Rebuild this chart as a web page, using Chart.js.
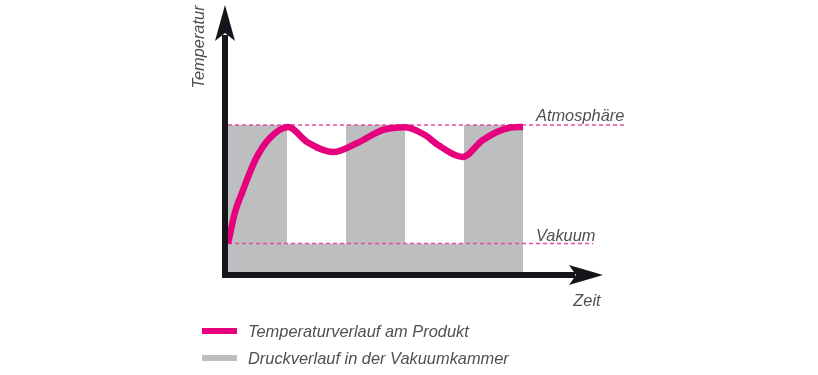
<!DOCTYPE html>
<html>
<head>
<meta charset="utf-8">
<script src="https://cdn.jsdelivr.net/npm/chart.js@4"></script>
<style>
html,body{margin:0;padding:0;background:#fff;}
canvas{display:block;}
</style>
</head>
<body>
<canvas id="c" width="818" height="375"></canvas>
<script>
// ---- data ----
const ATM = 100;          // Atmosphäre level
const VAC = 21;           // Vakuum level
const pressureX = [0, 1, 2, 3, 4, 5];
const pressureY = [ATM, VAC, ATM, VAC, ATM, ATM];
const tempX = [0, 0.12, 0.24, 0.46, 0.69, 1.02, 1.34, 1.78, 2.19, 2.63, 3.0, 3.34, 3.56, 3.98, 4.32, 4.75, 5.0];
const tempY = [21, 42, 55, 76.5, 90.5, 98.7, 88.7, 82, 88, 96.7, 98.5, 93.3, 86.7, 78.7, 90, 98, 98.7];
const atmLineX = [0, 6.76];
const vacLineX = [0, 6.19];
const labels = {
  yTitle: 'Temperatur',
  xTitle: 'Zeit',
  atm: 'Atmosphäre',
  vac: 'Vakuum',
  temp: 'Temperaturverlauf am Produkt',
  press: 'Druckverlauf in der Vakuumkammer'
};
const X_MAX = 6.356;
const Y_MAX = 180;

const PINK = '#e6007e';
const DASH = '#ea4aa0';
const GRAY = '#bcbec0';
const AXIS = '#15151c';
const TEXT = '#505050';
const FONT = 'italic 16.4px "Liberation Sans", Arial, sans-serif';

const decor = {
  id: 'decor',
  afterDatasetsDraw(chart) {
    const {ctx, scales: {x, y}} = chart;
    const ax = x.getPixelForValue(0) - 3;
    const ay = y.getPixelForValue(0);
    const yTip = y.getPixelForValue(Y_MAX);
    const xTip = x.getPixelForValue(X_MAX);
    ctx.save();
    ctx.fillStyle = AXIS;
    ctx.strokeStyle = AXIS;
    ctx.lineWidth = 6;
    ctx.lineCap = 'butt';
    // y axis
    ctx.beginPath();
    ctx.moveTo(ax, ay + 3);
    ctx.lineTo(ax, yTip + 30);
    ctx.stroke();
    ctx.beginPath();
    ctx.moveTo(ax, yTip);
    ctx.lineTo(ax + 10, yTip + 36);
    ctx.lineTo(ax, yTip + 28);
    ctx.lineTo(ax - 10, yTip + 36);
    ctx.closePath();
    ctx.fill();
    // x axis
    ctx.beginPath();
    ctx.moveTo(ax - 3, ay);
    ctx.lineTo(xTip - 28, ay);
    ctx.stroke();
    ctx.beginPath();
    ctx.moveTo(xTip, ay);
    ctx.lineTo(xTip - 34, ay - 10);
    ctx.lineTo(xTip - 27, ay);
    ctx.lineTo(xTip - 34, ay + 10);
    ctx.closePath();
    ctx.fill();

    // texts
    ctx.fillStyle = TEXT;
    ctx.font = FONT;
    ctx.textAlign = 'left';
    ctx.textBaseline = 'alphabetic';
    ctx.fillText(labels.atm, x.getPixelForValue(5.22), y.getPixelForValue(ATM) - 4);
    ctx.fillText(labels.vac, x.getPixelForValue(5.22), y.getPixelForValue(VAC) - 3);
    ctx.textAlign = 'center';
    ctx.textBaseline = 'middle';
    ctx.fillText(labels.xTitle, xTip - 16, ay + 26);
    ctx.save();
    ctx.translate(ax - 26, yTip + 42);
    ctx.rotate(-Math.PI / 2);
    ctx.fillText(labels.yTitle, 0, 0);
    ctx.restore();

    // legend
    const items = [
      {text: labels.temp, color: PINK},
      {text: labels.press, color: GRAY}
    ];
    items.forEach((it, i) => {
      const ly = 331 + i * 27;
      ctx.strokeStyle = it.color;
      ctx.lineWidth = 6;
      ctx.beginPath();
      ctx.moveTo(202, ly);
      ctx.lineTo(237, ly);
      ctx.stroke();
      ctx.fillStyle = TEXT;
      ctx.textAlign = 'left';
      ctx.textBaseline = 'middle';
      ctx.fillText(it.text, 248, ly + 1);
    });
    ctx.restore();
  }
};

new Chart(document.getElementById('c'), {
  type: 'line',
  data: {
    datasets: [
      {
        label: labels.press,
        data: pressureX.map((v, i) => ({x: v, y: pressureY[i]})),
        stepped: true,
        fill: 'origin',
        backgroundColor: GRAY,
        borderWidth: 0,
        pointRadius: 0,
        order: 3
      },
      {
        label: 'atm',
        data: atmLineX.map(v => ({x: v, y: ATM})),
        borderColor: DASH,
        borderWidth: 1.3,
        borderDash: [4, 3],
        pointRadius: 0,
        clip: false,
        order: 2
      },
      {
        label: 'vac',
        data: vacLineX.map(v => ({x: v, y: VAC})),
        borderColor: DASH,
        borderWidth: 1.3,
        borderDash: [4, 3],
        pointRadius: 0,
        clip: false,
        order: 2
      },
      {
        label: labels.temp,
        data: tempX.map((v, i) => ({x: v, y: tempY[i]})),
        borderColor: PINK,
        borderWidth: 6.5,
        cubicInterpolationMode: 'monotone',
        pointRadius: 0,
        borderCapStyle: 'butt',
        borderJoinStyle: 'round',
        clip: false,
        order: 1
      }
    ]
  },
  options: {
    responsive: false,
    devicePixelRatio: 1,
    animation: false,
    layout: {padding: {left: 228, right: 215, top: 5, bottom: 100}},
    scales: {
      x: {type: 'linear', min: 0, max: X_MAX, display: false},
      y: {type: 'linear', min: 0, max: Y_MAX, display: false}
    },
    plugins: {legend: {display: false}, tooltip: {enabled: false}}
  },
  plugins: [decor]
});
</script>
</body>
</html>
